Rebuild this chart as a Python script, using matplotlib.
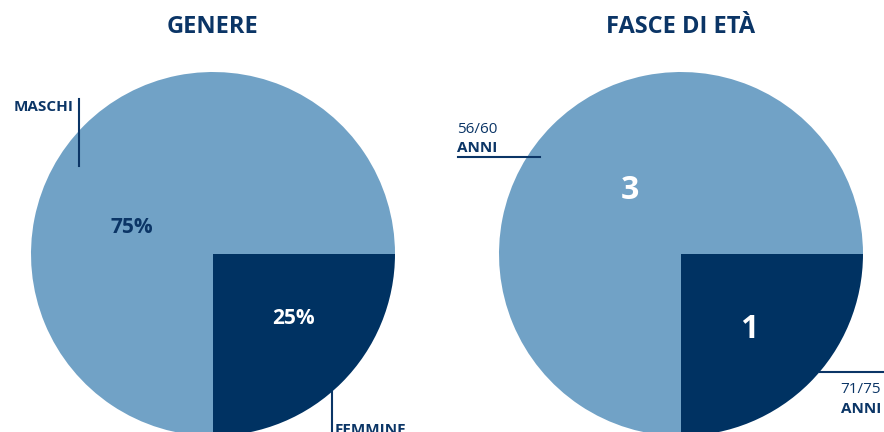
import matplotlib
matplotlib.use("Agg")
import matplotlib.pyplot as plt

plt.rcParams['font.family'] = ['Open Sans', 'DejaVu Sans']

# data
gender_labels = ["FEMMINE", "MASCHI"]
gender_values = [25, 75]
gender_texts = ["25%", "75%"]
age_ranges = ["71/75", "56/60"]
age_unit = "ANNI"
age_values = [1, 3]
titles = ["GENERE", "FASCE DI ETÀ"]

LIGHT = "#71a2c6"
DARK = "#003262"
NAVY = "#0b3566"

W, H = 884, 432
fig = plt.figure(figsize=(W / 100, H / 100), dpi=100)
R = 182

def make_ax(cx, cy):
    ax = fig.add_axes([(cx - R) / W, (H - cy - R) / H, 2 * R / W, 2 * R / H])
    ax.set_xlim(-1, 1)
    ax.set_ylim(-1, 1)
    ax.set_aspect("equal")
    ax.axis("off")
    return ax

def px(ax_c, x, y):
    cx, cy = ax_c
    return (x - cx) / R, (cy - y) / R

LBL = dict(color=NAVY, fontsize=11, clip_on=False)

# left pie
c1 = (213, 254)
ax1 = make_ax(*c1)
ax1.pie(gender_values, colors=[DARK, LIGHT], startangle=0, counterclock=False,
        radius=1, wedgeprops=dict(linewidth=0))
ax1.set_xlim(-1, 1); ax1.set_ylim(-1, 1)
ax1.text(*px(c1, 293.5, 318), gender_texts[0], color="white", fontsize=15,
         fontweight="bold", ha="center", va="center")
ax1.text(*px(c1, 132, 227.5), gender_texts[1], color=NAVY, fontsize=15,
         fontweight="bold", ha="center", va="center")
# MASCHI label
x0, y0 = px(c1, 79, 99); x1, y1 = px(c1, 79, 166)
ax1.plot([x0, x1], [y0, y1], color=NAVY, lw=1.5, clip_on=False)
ax1.text(*px(c1, 73.5, 111), gender_labels[1], fontweight="bold",
         ha="right", va="baseline", **LBL)
# FEMMINE label
x0, y0 = px(c1, 332, 392); x1, y1 = px(c1, 332, 440)
ax1.plot([x0, x1], [y0, y1], color=NAVY, lw=1.5, clip_on=False)
ax1.text(*px(c1, 335, 434), gender_labels[0], fontweight="bold",
         ha="left", va="baseline", **LBL)

# right pie
c2 = (681, 254)
ax2 = make_ax(*c2)
ax2.pie(age_values, colors=[DARK, LIGHT], startangle=0, counterclock=False,
        radius=1, wedgeprops=dict(linewidth=0))
ax2.set_xlim(-1, 1); ax2.set_ylim(-1, 1)
ax2.text(*px(c2, 630, 190), str(age_values[1]), color="white", fontsize=23,
         fontweight="bold", ha="center", va="center")
ax2.text(*px(c2, 749, 330), str(age_values[0]), color="white", fontsize=23,
         fontweight="bold", ha="center", va="center")
# 56/60 label
x0, y0 = px(c2, 458, 157); x1, y1 = px(c2, 540, 157)
ax2.plot([x0, x1], [y0, y1], color=NAVY, lw=1.5, clip_on=False)
ax2.text(*px(c2, 457, 133), age_ranges[1], fontweight="medium",
         ha="left", va="baseline", **LBL)
ax2.text(*px(c2, 457, 152), age_unit, fontweight="bold",
         ha="left", va="baseline", **LBL)
# 71/75 label
x0, y0 = px(c2, 820, 372); x1, y1 = px(c2, 884, 372)
ax2.plot([x0, x1], [y0, y1], color=NAVY, lw=1.5, clip_on=False)
ax2.text(*px(c2, 881, 393), age_ranges[0], fontweight="medium",
         ha="right", va="baseline", **LBL)
ax2.text(*px(c2, 881, 413), age_unit, fontweight="bold",
         ha="right", va="baseline", **LBL)

# titles
fig.text(213 / W, 1 - 27 / H, titles[0], color=NAVY, fontsize=17,
         fontweight="bold", ha="center", va="center")
fig.text(681 / W, 1 - 27 / H, titles[1], color=NAVY, fontsize=17,
         fontweight="bold", ha="center", va="center")

fig.savefig("out.png", dpi=100)
